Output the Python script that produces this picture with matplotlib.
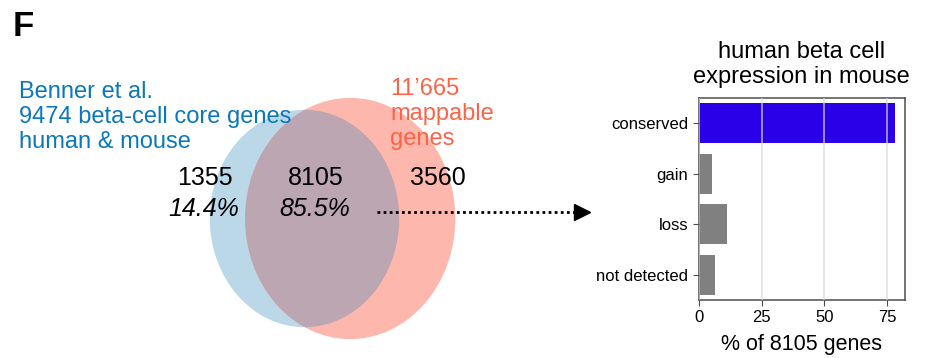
import matplotlib
matplotlib.use("Agg")
import matplotlib.pyplot as plt
from matplotlib.patches import Ellipse
import numpy as np

plt.rcParams['font.family'] = ['Liberation Sans', 'DejaVu Sans']

# Venn counts
set_a_size = 9474      # Benner et al. core genes
set_b_size = 11665     # mappable genes
only_a = 1355
both = 8105
only_b = 3560
pct_only_a = "14.4%"
pct_both = "85.5%"

# bar panel
categories = ["conserved", "gain", "loss", "not detected"]
pct_genes = [78.0, 5.2, 11.3, 6.5]
bar_colors = ["#2a00e8", "#808080", "#808080", "#808080"]

blue_text = "#0a78be"
red_text = "#ff6347"
blue_fill = "#bbd8e9"
red_fill = "#feb7ac"
overlap_fill = "#bba6b2"

fig = plt.figure(figsize=(9.25, 3.58), dpi=100)

# left panel: pixel-like coordinate frame for the Venn diagram
ax0 = fig.add_axes([0, 0, 1, 1])
ax0.set_xlim(0, 925)
ax0.set_ylim(358, 0)
ax0.axis("off")

fig.text(13 / 925, 1 - 36 / 358, "F", fontsize=25, fontweight="bold",
         ha="left", va="baseline")

# circle sizes scale with the square root of set size
w_a, h_a = 189.5, 217.4
scale = np.sqrt(set_b_size / set_a_size)
w_b, h_b = w_a * scale, h_a * scale

ell_a = Ellipse((304.5, 218.5), w_a, h_a, facecolor=blue_fill, edgecolor="none")
ell_b = Ellipse((350.2, 218.5), w_b, h_b, facecolor=red_fill, edgecolor="none")
ax0.add_patch(ell_a)
ax0.add_patch(ell_b)
ell_ab = Ellipse((304.5, 218.5), w_a, h_a, facecolor=overlap_fill, edgecolor="none")
ax0.add_patch(ell_ab)
ell_ab.set_clip_path(ell_b)

ax0.text(19, 148, f"Benner et al.\n{set_a_size} beta-cell core genes\nhuman & mouse",
         color=blue_text, fontsize=17, ha="left", va="baseline", linespacing=1.17)
ax0.text(390, 145, f"{set_b_size // 1000}\u2019{set_b_size % 1000}\nmappable\ngenes",
         color=red_text, fontsize=17, ha="left", va="baseline", linespacing=1.17)

ax0.text(204.5, 185, str(only_a), fontsize=18, ha="center", va="baseline")
ax0.text(204, 216, pct_only_a, fontsize=18, style="italic", ha="center", va="baseline")
ax0.text(316, 185, str(both), fontsize=18, ha="center", va="baseline")
ax0.text(315, 216, pct_both, fontsize=18, style="italic", ha="center", va="baseline")
ax0.text(437.5, 185, str(only_b), fontsize=18, ha="center", va="baseline")

# dotted arrow towards the bar panel
ax0.plot([377, 578], [211.5, 211.5], color="black", lw=2, ls=(0, (1, 1.2)))
ax0.plot([582], [211.5], marker=">", color="black", ms=12, mec="black")

# right panel: bar chart
ax = fig.add_axes([698.7 / 925, 1 - 300 / 358, 206 / 925, 202 / 358])
y = np.arange(len(categories))
ax.barh(y, pct_genes, height=0.8, color=bar_colors)
ax.set_yticks(y)
ax.set_yticklabels(categories, fontsize=12)
ax.set_ylim(len(categories) - 0.5, -0.5)
ax.set_xlim(0, max(pct_genes) * 1.05)
ax.set_xticks([0, 25, 50, 75])
ax.tick_params(axis="x", labelsize=12, color="0.3", length=4)
ax.tick_params(axis="y", color="0.3", length=4)
ax.set_axisbelow(False)
ax.grid(axis="x", color="0.85", lw=1.2, alpha=0.75)
for s in ax.spines.values():
    s.set_color("0.3")
    s.set_linewidth(1.1)
ax.set_xlabel("% of 8105 genes", fontsize=15.5, labelpad=6)
ax.set_title("human beta cell\nexpression in mouse", fontsize=17, pad=11, linespacing=1.15)

fig.savefig("out.png", dpi=100)
